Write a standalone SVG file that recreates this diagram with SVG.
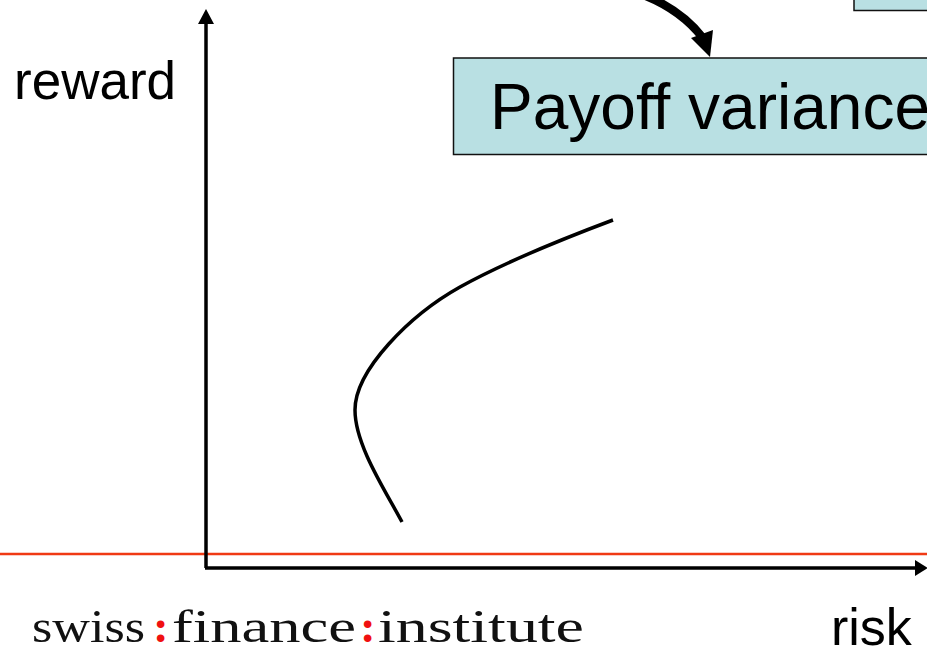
<svg xmlns="http://www.w3.org/2000/svg" width="927" height="648" viewBox="0 0 927 648">
<style>
.s{font-family:"Liberation Sans",Arial,sans-serif;fill:#000}
.l{font-family:"Liberation Serif","Times New Roman",serif;font-size:47px;fill:#111}
.r{fill:#f01010;font-weight:bold}
.box{fill:#b9e0e3;stroke:#111;stroke-width:1.500}
.ax{fill:none;stroke:#000;stroke-width:3.500}
</style>
<rect width="927" height="648" fill="#fff"/>
<g id="box-top"><rect class="box" x="854" y="-20" width="90" height="30.500"/></g>
<g id="box-payoff"><rect class="box" x="453.500" y="58" width="500" height="96.500"/>
<text class="s" x="490" y="129" font-size="64">Payoff variance</text></g>
<line x1="0" y1="554" x2="927" y2="554" stroke="#f03a14" stroke-width="2.500"/>
<g id="connectors">
<path d="M206 568V22" class="ax"/><path d="M206 9L214 24H198Z"/>
<path d="M205 568H916" class="ax"/><path d="M928 568L915 560V576Z"/>
<path d="M402 522C385 490 355 445 355 410C355 370 410 315 460 287C505 262 565 238 613 220" fill="none" stroke="#000" stroke-width="3.500"/>
<path d="M646 -4C668 5 689 20 703 38" fill="none" stroke="#000" stroke-width="8.500"/>
<path d="M710 57L691 38L713 30Z"/>
</g>
<g id="label-reward"><text class="s" x="14" y="99" font-size="53">reward</text></g>
<g id="label-risk"><text class="s" x="831" y="645" font-size="52">risk</text></g>
<g id="logo">
<text class="l" x="32" y="642" textLength="113" lengthAdjust="spacingAndGlyphs">swiss</text>
<text class="l r" x="153" y="642">:</text>
<text class="l" x="172" y="642" textLength="184" lengthAdjust="spacingAndGlyphs">finance</text>
<text class="l r" x="360" y="642">:</text>
<text class="l" x="378" y="642" textLength="206" lengthAdjust="spacingAndGlyphs">institute</text>
</g>
</svg>
